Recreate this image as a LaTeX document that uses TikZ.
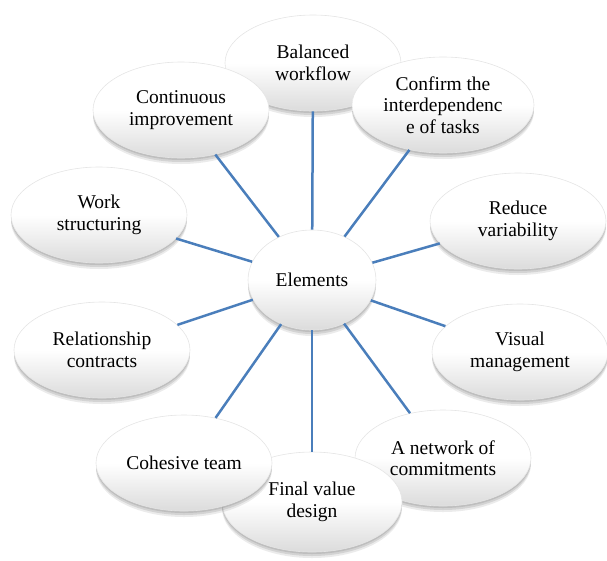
\documentclass[tikz,border=0pt]{standalone}
\usepackage{fontspec}
\setmainfont{Liberation Serif}
\newfontfamily\bubblefont{Liberation Serif}
\usetikzlibrary{shapes.geometric,shadows}
\definecolor{spoke}{HTML}{4A7EBB}
\tikzset{
  softshadow/.style={
    drop shadow={shadow xshift=0pt, shadow yshift=-2pt, opacity=0.10, fill=black},
    drop shadow={shadow xshift=0pt, shadow yshift=-4pt, opacity=0.10, fill=black},
    drop shadow={shadow xshift=0pt, shadow yshift=-6pt, opacity=0.08, fill=black}},
  bubble/.style={ellipse, minimum width=176pt, minimum height=96pt, inner sep=0pt,
    align=center, font=\bubblefont\fontsize{19.5}{21.5}\selectfont,
    softshadow, draw=black!10, line width=0.6pt,
    top color=white, bottom color=black!14, middle color=white},
  spokeline/.style={draw=spoke, line width=2.5pt}
}
\begin{document}
\begin{tikzpicture}[x=1pt, y=-1pt]
  \useasboundingbox (0,0) rectangle (607,560);
  % hub
  \node[bubble, minimum width=128pt, minimum height=100pt] (hub) at (312,280) {Elements};
  % surrounding elements, clockwise from the top
  \node[bubble] (bal) at (313,63) {Balanced\\workflow};
  \node[bubble, minimum width=182pt] (conf) at (443,105) {Confirm the\\interdependenc\\e of tasks};
  \node[bubble] (red) at (518,221) {Reduce\\variability};
  \node[bubble] (vis) at (520,352) {Visual\\management};
  \node[bubble] (net) at (443,458) {A network of\\commitments};
  \node[bubble, minimum width=180pt, minimum height=100pt] (fin) at (312,502) {Final value\\design};
  \node[bubble] (coh) at (184,463) {Cohesive team};
  \node[bubble] (rel) at (102,350) {Relationship\\contracts};
  \node[bubble] (work) at (99,215) {Work\\structuring};
  \node[bubble] (cont) at (181,110) {Continuous\\improvement};
  % spokes
  \foreach \n in {bal,conf,red,vis,net,fin,coh,rel,work,cont}
    \draw[spokeline] (hub) -- (\n);
\end{tikzpicture}
\end{document}
